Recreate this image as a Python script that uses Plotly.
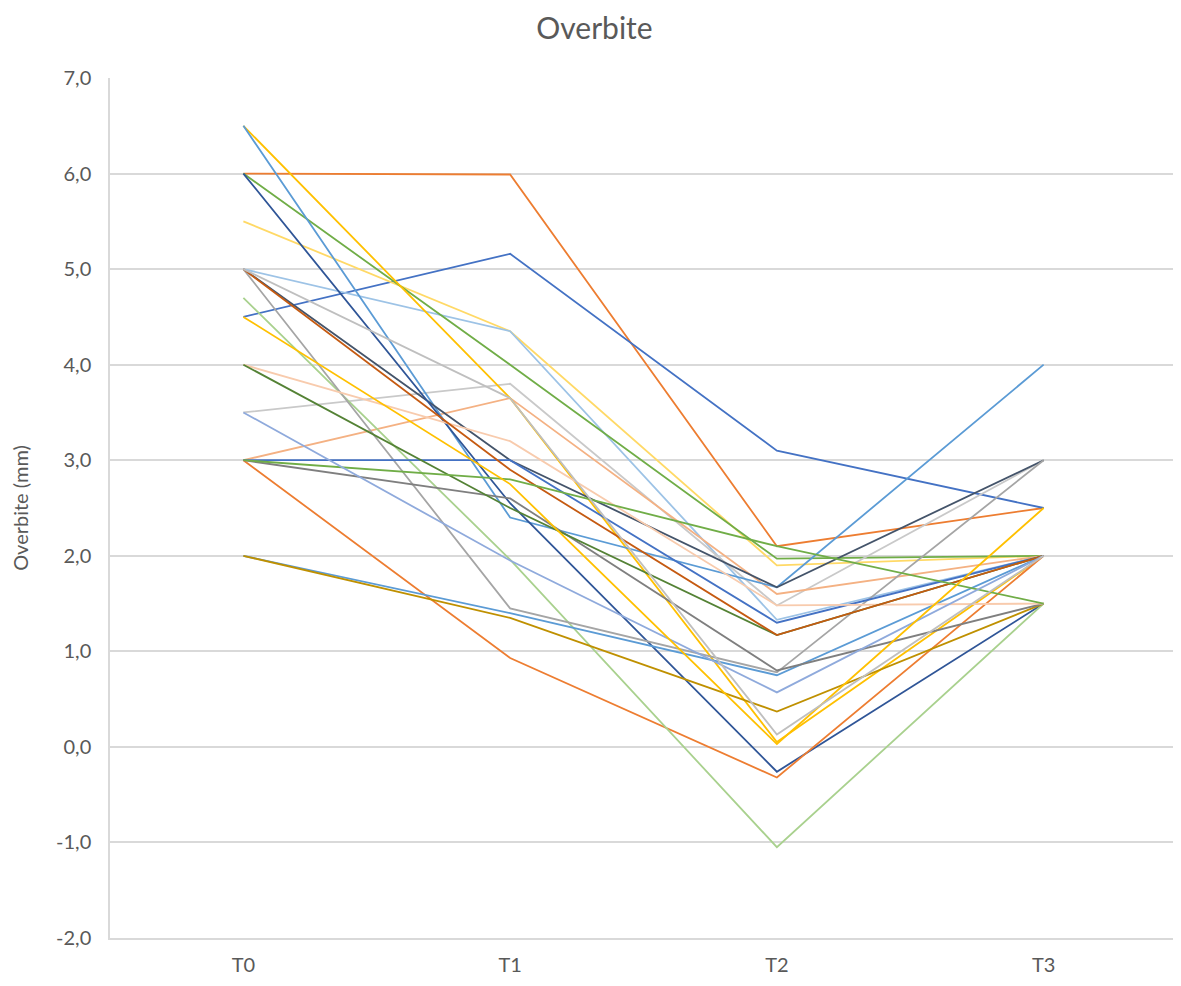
import plotly.graph_objects as go

times = ['T0', 'T1', 'T2', 'T3']

# one list per patient: overbite (mm) at T0..T3
p01 = [6.0, 5.99, 2.1, 2.5]
p02 = [4.5, 5.16, 3.1, 2.5]
p03 = [5.5, 4.35, 1.9, 2.0]
p04 = [5.0, 4.35, 1.33, 2.0]
p05 = [6.0, 4.0, 1.97, 2.0]
p06 = [3.5, 3.8, 1.48, 3.0]
p07 = [3.0, 3.65, 1.6, 2.0]
p08 = [6.5, 3.65, 0.05, 2.0]
p09 = [6.5, 2.4, 1.67, 4.0]
p10 = [5.0, 3.0, 1.67, 3.0]
p11 = [6.0, 2.55, -0.26, 1.5]
p12 = [3.0, 0.93, -0.32, 2.0]
p13 = [4.7, 1.96, -1.05, 1.5]
p14 = [5.0, 1.45, 0.78, 3.0]
p15 = [2.0, 1.4, 0.75, 2.0]
p16 = [2.0, 1.35, 0.37, 1.5]
p17 = [3.0, 3.0, 1.3, 2.0]
p18 = [3.0, 2.6, 0.8, 1.5]
p19 = [4.0, 3.2, 1.48, 1.5]
p20 = [4.0, 2.5, 1.17, 2.0]
p21 = [5.0, 2.9, 1.17, 2.0]
p22 = [3.0, 2.8, 2.1, 1.5]
p23 = [3.5, 1.95, 0.57, 2.0]
p24 = [4.5, 2.75, 0.03, 2.5]
p25 = [5.0, 3.65, 0.13, 2.0]

patients = [p01, p02, p03, p04, p05, p06, p07, p08, p09, p10, p11, p12, p13,
            p14, p15, p16, p17, p18, p19, p20, p21, p22, p23, p24, p25]
colors = ['#ED7D31', '#4472C4', '#FFD966', '#9DC3E6', '#70AD47', '#C9C9C9',
          '#F4B183', '#FFC000', '#5B9BD5', '#44546A', '#2F5597', '#ED7D31',
          '#A9D18E', '#A5A5A5', '#5B9BD5', '#BF9000', '#4472C4', '#7F7F7F',
          '#F8CBAD', '#548235', '#C55A11', '#70AD47', '#8FAADC', '#FFC000',
          '#BFBFBF']

y_ticks = [-2, -1, 0, 1, 2, 3, 4, 5, 6, 7]
y_labels = ['-2,0', '-1,0', '0,0', '1,0', '2,0', '3,0', '4,0', '5,0', '6,0', '7,0']

fig = go.Figure()
for vals, col in zip(patients, colors):
    fig.add_trace(go.Scatter(x=times, y=vals, mode='lines',
                             line=dict(color=col, width=1.8), showlegend=False))

# the page puts the figure 8px in from the corner, so it is drawn a bit smaller
fig.update_layout(
    width=1173, height=978,
    margin=dict(l=102, r=4, t=70, b=48),
    paper_bgcolor='white', plot_bgcolor='white',
    font=dict(family='Lato', color='#595959'),
    title=dict(text='Overbite', x=0.5, xanchor='center', y=0.99, yanchor='top',
               font=dict(size=30, color='#595959'), automargin=False),
    xaxis=dict(type='category', range=[-0.5, 3.5], showgrid=False, automargin=False,
               showline=True, linecolor='#D9D9D9', linewidth=1.5,
               ticks='', tickfont=dict(size=20), ticklabelstandoff=8),
    yaxis=dict(range=[-2, 7], tickvals=y_ticks, ticktext=y_labels, automargin=False,
               showgrid=True, gridcolor='#D9D9D9', gridwidth=1.5,
               zeroline=False, showline=True, linecolor='#D9D9D9', linewidth=1.5,
               tickfont=dict(size=20), ticks='', ticklabelstandoff=13,
               title=dict(text='Overbite (mm)', font=dict(size=20), standoff=30)),
)

fig.write_html('out.html')
